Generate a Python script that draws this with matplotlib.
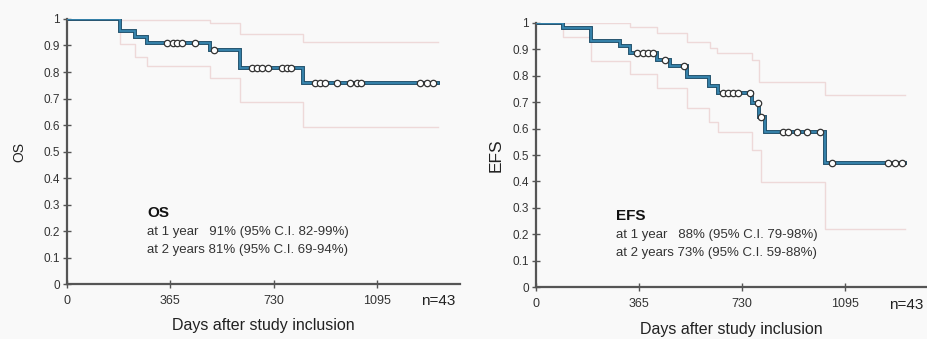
import numpy as np
import matplotlib
matplotlib.use("Agg")
import matplotlib.pyplot as plt

plt.rcParams['font.family'] = ['Liberation Sans', 'DejaVu Sans']

# OS curve (Kaplan-Meier steps)
os_times = [0, 188, 241, 282, 505, 611, 834, 1310]
os_surv = [1.0, 0.953, 0.931, 0.908, 0.883, 0.814, 0.757, 0.757]
os_censor = [353, 376, 388, 406, 452, 520, 652, 670, 690, 711, 758, 776, 793,
             876, 894, 911, 952, 999, 1023, 1040, 1246, 1270, 1293]
os_up_times = [0, 188, 505, 611, 834, 1310]
os_up = [1.0, 0.996, 0.984, 0.943, 0.915, 0.915]
os_lo_times = [0, 188, 241, 282, 505, 611, 834, 1310]
os_lo = [1.0, 0.905, 0.858, 0.822, 0.777, 0.688, 0.594, 0.594]

# EFS curve
efs_times = [0, 97, 197, 298, 333, 428, 475, 534, 614, 646, 767, 790, 811, 1024, 1308]
efs_surv = [1.0, 0.979, 0.932, 0.912, 0.887, 0.859, 0.838, 0.795, 0.762, 0.735,
            0.695, 0.642, 0.588, 0.471, 0.471]
efs_censor = [359, 380, 398, 416, 457, 524, 664, 682, 699, 717, 759, 786, 799,
              876, 894, 923, 959, 1006, 1047, 1248, 1272, 1296]
efs_up_times = [0, 333, 428, 534, 617, 640, 767, 790, 1024, 1308]
efs_up = [1.0, 0.985, 0.962, 0.928, 0.903, 0.884, 0.859, 0.777, 0.727, 0.727]
efs_lo_times = [0, 97, 197, 333, 428, 534, 614, 646, 767, 797, 1024, 1308]
efs_lo = [1.0, 0.945, 0.855, 0.805, 0.755, 0.677, 0.626, 0.588, 0.519, 0.399, 0.22, 0.22]

xticks = [0, 365, 730, 1095]
yticks = [0, 0.1, 0.2, 0.3, 0.4, 0.5, 0.6, 0.7, 0.8, 0.9, 1]
ytick_labels = ['0', '0.1', '0.2', '0.3', '0.4', '0.5', '0.6', '0.7', '0.8', '0.9', '1']

os_text = ['at 1 year   91% (95% C.I. 82-99%)', 'at 2 years 81% (95% C.I. 69-94%)']
efs_text = ['at 1 year   88% (95% C.I. 79-98%)', 'at 2 years 73% (95% C.I. 59-88%)']

BG = '#f9f9f9'
AXC = '#555555'


def step_value(times, surv, t):
    i = np.searchsorted(times, t, side='right') - 1
    return np.asarray(surv)[i]


def draw_panel(ax, times, surv, censor, up_t, up, lo_t, lo, name, lines, xmax):
    ax.set_facecolor(BG)
    ax.plot(up_t, up, drawstyle='steps-post', color='#eed9d9', lw=1.0, zorder=1)
    ax.plot(lo_t, lo, drawstyle='steps-post', color='#eed9d9', lw=1.0, zorder=1)
    ax.plot(times, surv, drawstyle='steps-post', color='#1f4f6b', lw=2.8, zorder=2,
            solid_joinstyle='miter')
    ax.plot(times, surv, drawstyle='steps-post', color='#3a8ab5', lw=1.2, zorder=3,
            solid_joinstyle='miter')
    cy = [step_value(times, surv, c) for c in censor]
    ax.plot(censor, cy, ls='none', marker='o', ms=4.6, mfc='white', mec='#333333',
            mew=0.9, zorder=4)

    ax.set_xlim(0, xmax)
    ax.set_ylim(0, 1)
    for s in ['top', 'right']:
        ax.spines[s].set_visible(False)
    for s in ['left', 'bottom']:
        ax.spines[s].set_color(AXC)
        ax.spines[s].set_linewidth(1.6)
    ax.set_xticks(xticks)
    ax.set_xticklabels([str(x) for x in xticks])
    ax.set_yticks(yticks)
    ax.set_yticklabels(ytick_labels)
    ax.tick_params(axis='both', direction='inout', length=6, width=1.0, color=AXC,
                   labelcolor='#333333')
    ax.tick_params(axis='x', pad=5, labelsize=9)
    ax.tick_params(axis='y', pad=2, labelsize=8.5)
    ax.set_xlabel('Days after study inclusion', fontsize=11.5, color='#222222', labelpad=8)

    ax.text(0.99, -0.065, 'n=43', transform=ax.transAxes,
            fontsize=11, color='#222222', ha='right', va='center')
    ax.text(0.205, 0.27, name, transform=ax.transAxes, fontsize=11, fontweight='bold',
            color='#111111', ha='left', va='center')
    ax.text(0.205, 0.198, lines[0], transform=ax.transAxes, fontsize=9.5,
            color='#333333', ha='left', va='center')
    ax.text(0.205, 0.13, lines[1], transform=ax.transAxes, fontsize=9.5,
            color='#333333', ha='left', va='center')


fig = plt.figure(figsize=(9.27, 3.39), dpi=100)
fig.patch.set_facecolor(BG)

ax1 = fig.add_axes([0.072, 0.162, 0.424, 0.782])
draw_panel(ax1, os_times, os_surv, os_censor, os_up_times, os_up, os_lo_times, os_lo,
           'OS', os_text, 1387)
ax1.set_ylabel('OS', fontsize=10, color='#222222', labelpad=12)

ax2 = fig.add_axes([0.578, 0.1525, 0.422, 0.7805])
draw_panel(ax2, efs_times, efs_surv, efs_censor, efs_up_times, efs_up, efs_lo_times, efs_lo,
           'EFS', efs_text, 1385)
ax2.set_ylabel('EFS', fontsize=12.5, color='#222222', labelpad=6)

fig.savefig('out.png', dpi=100, facecolor=BG)
